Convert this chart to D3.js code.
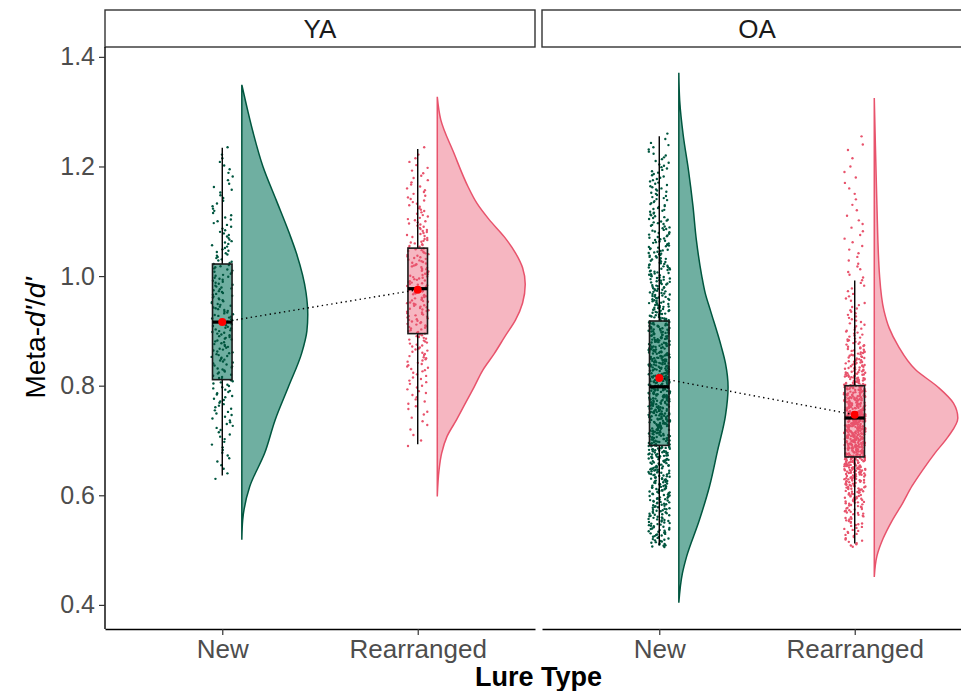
<!DOCTYPE html>
<html>
<head>
<meta charset="utf-8">
<script src="https://cdn.jsdelivr.net/npm/d3@7"></script>
<style>
  body { margin: 0; background: #fff; }
  svg { display: block; font-family: "Liberation Sans", Arial, sans-serif; }
</style>
</head>
<body>
<div id="vis"></div>
<script>
const width = 961, height = 691;

const panels = ["YA", "OA"];
const lureTypes = ["New", "Rearranged"];
const yTicks = [0.4, 0.6, 0.8, 1.0, 1.2, 1.4];

// box summaries: [lower whisker, Q1, median, Q3, upper whisker]
const yaNewBox = [0.636, 0.811, 0.916, 1.022, 1.234];
const yaRearrBox = [0.693, 0.895, 0.977, 1.051, 1.232];
const oaNewBox = [0.509, 0.691, 0.798, 0.918, 1.255];
const oaRearrBox = [0.512, 0.670, 0.741, 0.800, 0.992];

// group means (red points), New then Rearranged
const yaMeans = [0.916, 0.975];
const oaMeans = [0.814, 0.747];

// raw points, counted per 0.02 bin starting at 0.505
const binStart = 0.505, binWidth = 0.02;
const yaNewCounts = [0,0,0,0,0,0,2,3,4,4,5,6,7,8,9,10,11,12,12,13,13,13,12,12,11,10,9,8,7,6,5,4,4,3,3,3,1,0];
const yaRearrCounts = [0,0,0,0,0,0,0,0,0,2,2,3,4,5,6,7,9,10,11,13,14,15,16,16,16,15,14,13,11,10,8,7,6,5,4,3,1,0];
const oaNewCounts = [18,20,21,22,24,26,28,30,33,35,37,39,40,41,41,40,39,37,34,31,28,26,23,21,20,18,17,16,14,13,12,11,10,9,8,6,5,2];
const oaRearrCounts = [9,11,14,19,24,30,38,47,54,60,63,62,58,50,41,33,26,20,15,11,8,7,5,4,4,4,3,3,3,3,2,2,2,2,2,1,2,1];

// half-violin densities [value, relative density]
const yaNewDensity = [[0.519,0],[0.555,0.01],[0.616,0.09],[0.677,0.26],[0.738,0.38],[0.798,0.53],[0.859,0.68],
  [0.900,0.74],[0.930,0.75],[0.970,0.73],[1.042,0.62],[1.078,0.54],[1.139,0.39],[1.200,0.24],[1.261,0.13],[1.300,0.07],[1.349,0]];
const yaRearrDensity = [[0.598,0],[0.646,0.02],[0.677,0.05],[0.707,0.11],[0.738,0.22],[0.768,0.32],[0.798,0.42],
  [0.829,0.52],[0.859,0.65],[0.890,0.77],[0.920,0.89],[0.951,0.97],[0.985,1.0],[1.015,0.97],[1.042,0.89],[1.072,0.76],
  [1.103,0.59],[1.133,0.45],[1.163,0.35],[1.224,0.19],[1.285,0.04],[1.327,0]];
const oaNewDensity = [[0.404,0],[0.457,0.04],[0.489,0.09],[0.553,0.23],[0.617,0.35],[0.681,0.44],[0.745,0.53],
  [0.797,0.56],[0.841,0.53],[0.873,0.48],[0.937,0.36],[0.969,0.30],[1.001,0.26],[1.065,0.20],[1.129,0.16],
  [1.193,0.11],[1.257,0.05],[1.320,0.01],[1.371,0]];
const oaRearrDensity = [[0.451,0],[0.489,0.03],[0.521,0.10],[0.553,0.20],[0.585,0.32],[0.617,0.43],[0.646,0.55],
  [0.677,0.69],[0.707,0.84],[0.741,0.95],[0.768,0.90],[0.798,0.72],[0.829,0.47],[0.873,0.27],[0.905,0.17],
  [0.937,0.11],[1.001,0.06],[1.130,0.03],[1.257,0.01],[1.325,0]];

const colour = { New: "#00563F", Rearranged: "#E8536C" };
const fillColour = { New: "#0F7A63", Rearranged: "#EC5D75" };
const fillOpacity = { New: 0.6, Rearranged: 0.45 };

const groups = [
  { panel: "YA", type: "New", box: yaNewBox, counts: yaNewCounts, density: yaNewDensity },
  { panel: "YA", type: "Rearranged", box: yaRearrBox, counts: yaRearrCounts, density: yaRearrDensity },
  { panel: "OA", type: "New", box: oaNewBox, counts: oaNewCounts, density: oaNewDensity },
  { panel: "OA", type: "Rearranged", box: oaRearrBox, counts: oaRearrCounts, density: oaRearrDensity }
];
const meansByPanel = { YA: yaMeans, OA: oaMeans };

// layout
const panelW = 430, panelTop = 47, panelBottom = 629;
const panelX = { YA: 105, OA: 542 };
const stripTop = 10;

const svg = d3.select("#vis").append("svg")
  .attr("width", width)
  .attr("height", height);

const y = d3.scaleLinear().domain([0.356, 1.418]).range([panelBottom, panelTop]);
const x = d3.scalePoint().domain(lureTypes).range([0, panelW]).padding(0.6);
const step = x.step();
const dens = d3.scaleLinear().domain([0, 1]).range([0, 0.45 * step]);

// deterministic horizontal jitter, like geom_jitter but repeatable
const hash = n => { const s = Math.sin(n * 12.9898 + 78.233) * 43758.5453; return s - Math.floor(s); };

panels.forEach(p => {
  const g = svg.append("g").attr("transform", `translate(${panelX[p]},0)`);

  // strip
  g.append("rect")
    .attr("x", 0).attr("y", stripTop)
    .attr("width", panelW).attr("height", panelTop - stripTop)
    .attr("fill", "#fff").attr("stroke", "#333").attr("stroke-width", 1.4);
  g.append("text")
    .attr("x", panelW / 2).attr("y", (stripTop + panelTop) / 2 + 9)
    .attr("text-anchor", "middle")
    .attr("font-size", 26)
    .attr("fill", "#1a1a1a")
    .text(p);

  groups.filter(d => d.panel === p).forEach((d, gi) => {
    const cx = x(d.type);
    const col = colour[d.type];
    const base = cx + 0.1 * step;

    // half violin
    const area = d3.area()
      .curve(d3.curveMonotoneY)
      .y(e => y(e[0]))
      .x0(base)
      .x1(e => base + dens(e[1]));
    g.append("path")
      .attr("d", area(d.density))
      .attr("fill", fillColour[d.type]).attr("fill-opacity", fillOpacity[d.type])
      .attr("stroke", col).attr("stroke-width", 1.5);

    // box fill
    const bx = cx - 0.05 * step, bw = 0.1 * step;
    g.append("rect")
      .attr("x", bx).attr("width", bw)
      .attr("y", y(d.box[3])).attr("height", y(d.box[1]) - y(d.box[3]))
      .attr("fill", fillColour[d.type]).attr("fill-opacity", fillOpacity[d.type]);

    // jittered points
    const pts = [];
    d.counts.forEach((n, i) => {
      for (let k = 0; k < n; k++) {
        pts.push({ v: binStart + binWidth * (i + (k + 0.5) / n) });
      }
    });
    const seed = (p === "YA" ? 0 : 5000) + gi * 2000;
    g.append("g").selectAll("circle").data(pts).join("circle")
      .attr("cx", (e, i) => cx + (hash(seed + i) - 0.5) * 0.11 * step)
      .attr("cy", e => y(e.v))
      .attr("r", 1.2)
      .attr("fill", col);

    // whiskers, box outline, median
    g.append("line")
      .attr("x1", cx).attr("x2", cx)
      .attr("y1", y(d.box[0])).attr("y2", y(d.box[1]))
      .attr("stroke", "#000").attr("stroke-width", 1.4);
    g.append("line")
      .attr("x1", cx).attr("x2", cx)
      .attr("y1", y(d.box[3])).attr("y2", y(d.box[4]))
      .attr("stroke", "#000").attr("stroke-width", 1.4);
    g.append("rect")
      .attr("x", bx).attr("width", bw)
      .attr("y", y(d.box[3])).attr("height", y(d.box[1]) - y(d.box[3]))
      .attr("fill", "none").attr("stroke", "#1a1a1a").attr("stroke-width", 1.6);
    g.append("line")
      .attr("x1", bx).attr("x2", bx + bw)
      .attr("y1", y(d.box[2])).attr("y2", y(d.box[2]))
      .attr("stroke", "#000").attr("stroke-width", 3.2);
  });

  // dotted line joining the means
  const m = meansByPanel[p];
  const line = d3.line().x((v, i) => x(lureTypes[i])).y(v => y(v));
  g.append("path")
    .attr("d", line(m))
    .attr("fill", "none")
    .attr("stroke", "#000").attr("stroke-width", 1.4)
    .attr("stroke-dasharray", "1.4,3.4");
  g.selectAll(".mean").data(m).join("circle")
    .attr("cx", (v, i) => x(lureTypes[i]))
    .attr("cy", v => y(v))
    .attr("r", 4)
    .attr("fill", "#ff0000");

  // x axis
  const xa = g.append("g")
    .attr("transform", `translate(0,${panelBottom})`)
    .call(d3.axisBottom(x).tickSize(6).tickSizeOuter(0).tickPadding(5));
  xa.select(".domain").attr("stroke", "#000").attr("stroke-width", 1.4);
  xa.selectAll(".tick line").attr("stroke", "#333").attr("stroke-width", 1.2);
  xa.selectAll(".tick text")
    .attr("font-size", 26).attr("fill", "#4d4d4d")
    .attr("font-family", "Liberation Sans, Arial, sans-serif");

  if (p === "YA") {
    const ya = g.append("g")
      .call(d3.axisLeft(y).tickValues(yTicks).tickFormat(d3.format(".1f")).tickSize(6).tickSizeOuter(0).tickPadding(4));
    ya.select(".domain").attr("stroke", "#000").attr("stroke-width", 1.4)
      .attr("d", `M0,${panelTop}V${panelBottom}`);
    ya.selectAll(".tick line").attr("stroke", "#333").attr("stroke-width", 1.2);
    ya.selectAll(".tick text")
      .attr("font-size", 25).attr("fill", "#4d4d4d")
      .attr("font-family", "Liberation Sans, Arial, sans-serif");
  }
});

// axis titles
const yTitle = svg.append("text")
  .attr("transform", `translate(45,${(panelTop + panelBottom) / 2}) rotate(-90)`)
  .attr("text-anchor", "middle")
  .attr("font-size", 28)
  .attr("fill", "#000");
yTitle.append("tspan").text("Meta-");
yTitle.append("tspan").attr("font-style", "italic").text("d'");
yTitle.append("tspan").text("/");
yTitle.append("tspan").attr("font-style", "italic").text("d'");

svg.append("text")
  .attr("x", (panelX.YA + panelX.OA + panelW) / 2)
  .attr("y", 686)
  .attr("text-anchor", "middle")
  .attr("font-size", 27)
  .attr("font-weight", "bold")
  .attr("fill", "#000")
  .text("Lure Type");
</script>
</body>
</html>
